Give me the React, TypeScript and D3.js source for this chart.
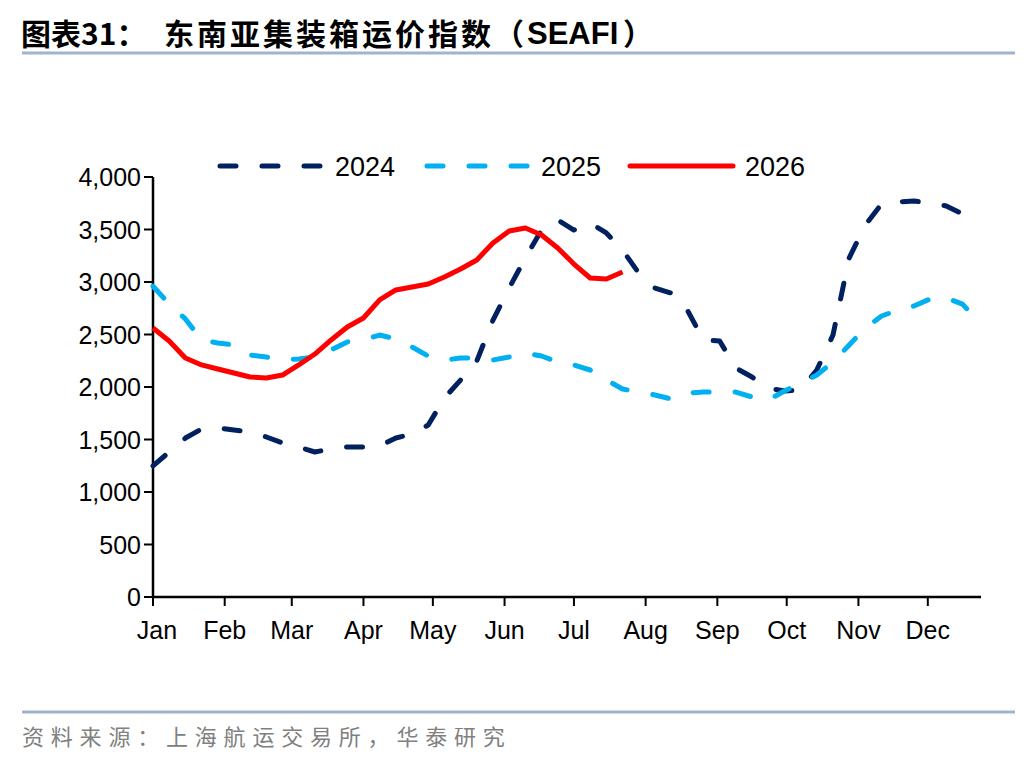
import * as d3 from "d3";

// weekly grid (plotted on a common calendar year)
const weeks = [
  "01-01", "01-08", "01-15", "01-22", "01-29",
  "02-05", "02-12", "02-19", "02-26",
  "03-04", "03-11", "03-18", "03-25",
  "04-01", "04-08", "04-15", "04-22", "04-29",
  "05-06", "05-13", "05-20", "05-27",
  "06-03", "06-10", "06-17", "06-24",
  "07-01", "07-08", "07-15", "07-22", "07-29",
  "08-05", "08-12", "08-19", "08-26",
  "09-02", "09-09", "09-16", "09-23", "09-30",
  "10-07", "10-14", "10-21", "10-28",
  "11-04", "11-11", "11-18", "11-25",
  "12-02", "12-09", "12-16", "12-23",
];

const months = ["Jan", "Feb", "Mar", "Apr", "May", "Jun", "Jul", "Aug", "Sep", "Oct", "Nov", "Dec"];
const yTicks = [0, 500, 1000, 1500, 2000, 2500, 3000, 3500, 4000];

const v2024 = [
  1248, 1381, 1514, 1600, 1610, 1590, 1571, 1524, 1467, 1429, 1381, 1410, 1429,
  1429, 1438, 1514, 1552, 1638, 1895, 2067, 2248, 2638, 2943, 3229, 3495, 3590,
  3495, 3562, 3467, 3305, 3086, 2943, 2895, 2733, 2448, 2438, 2181, 2095, 1990,
  1962, 1971, 2162, 2495, 3229, 3543, 3743, 3762, 3771, 3752, 3724, 3648, 3514,
];
const v2025 = [
  2960, 2790, 2648, 2448, 2419, 2400, 2305, 2286, 2257, 2267, 2286, 2352, 2429,
  2448, 2495, 2457, 2381, 2295, 2257, 2276, 2276, 2257, 2286, 2324, 2295, 2238,
  2210, 2162, 2067, 1981, 1952, 1924, 1886, 1943, 1952, 1952, 1952, 1905, 1876,
  1962, 2038, 2114, 2238, 2400, 2562, 2676, 2733, 2771, 2838, 2848, 2790, 2619,
];
const v2026 = [
  2562, 2438, 2276, 2210, 2171, 2133, 2095, 2086, 2114, 2210, 2314, 2448, 2571,
  2657, 2829, 2924, 2952, 2981, 3048, 3124, 3210, 3371, 3486, 3514, 3448, 3324,
  3171, 3038, 3029, 3095,
];

const series = [
  { name: "2024", values: v2024, color: "#002060", dash: "16 26" },
  { name: "2025", values: v2025, color: "#00B0F0", dash: "16 26" },
  { name: "2026", values: v2026, color: "#FF0000", dash: "" },
];

const W = 1036;
const H = 760;
const plot = { left: 153, right: 981, top: 177, bottom: 597 };
const font = "'Liberation Sans', Arial, sans-serif";
const cjk = "'Noto Sans CJK SC', sans-serif";

const parse = (s: string) => new Date(2024, +s.slice(0, 2) - 1, +s.slice(3, 5));

export default function App() {
  const x = d3
    .scaleTime()
    .domain([new Date(2024, 0, 1), new Date(2024, 11, 24)])
    .range([plot.left, plot.right]);
  const y = d3.scaleLinear().domain([0, 4000]).range([plot.bottom, plot.top]);

  const monthStarts = d3.timeMonth.range(new Date(2024, 0, 1), new Date(2024, 11, 24));

  const line = d3
    .line<number>()
    .x((_, i) => x(parse(weeks[i])))
    .y((d) => y(d));

  const fmt = d3.format(",");

  // legend layout
  const legend = [
    { x0: 218, x1: 323, tx: 335 },
    { x0: 425, x1: 530, tx: 541 },
    { x0: 630, x1: 733, tx: 745 },
  ];

  return (
    <svg
      width={W}
      height={H}
      style={{ position: "absolute", left: 0, top: 0, background: "#fff" }}
    >
      {/* title */}
      <text x={21} y={45} fontFamily={cjk} fontWeight={700} fontSize={30} fill="#000">
        图表31：
      </text>
      <text x={164} y={45} fontFamily={cjk} fontWeight={700} fontSize={30} letterSpacing={3} fill="#000">
        东南亚集装箱运价指数（
      </text>
      <text x={527} y={44} fontFamily={font} fontWeight={700} fontSize={31} fill="#000">
        SEAFI
      </text>
      <text x={623} y={45} fontFamily={cjk} fontWeight={700} fontSize={30} fill="#000">
        ）
      </text>
      <line x1={22} x2={1015} y1={53} y2={53} stroke="#A2B4CD" strokeWidth={3} />

      {/* y axis */}
      <line x1={plot.left} x2={plot.left} y1={plot.top} y2={plot.bottom} stroke="#000" strokeWidth={2.5} />
      {yTicks.map((t) => (
        <g key={t}>
          <line x1={plot.left - 9} x2={plot.left} y1={y(t)} y2={y(t)} stroke="#000" strokeWidth={2} />
          <text
            x={plot.left - 12}
            y={y(t)}
            dy="0.36em"
            textAnchor="end"
            fontFamily={font}
            fontSize={25}
            fill="#000"
          >
            {fmt(t)}
          </text>
        </g>
      ))}

      {/* x axis */}
      <line x1={plot.left} x2={plot.right} y1={plot.bottom} y2={plot.bottom} stroke="#000" strokeWidth={2.5} />
      {monthStarts.map((m, i) => (
        <g key={i}>
          <line x1={x(m)} x2={x(m)} y1={plot.bottom} y2={plot.bottom + 9} stroke="#000" strokeWidth={2} />
          <text
            x={x(m) + (i === 0 ? 4 : 0)}
            y={plot.bottom + 42}
            textAnchor="middle"
            fontFamily={font}
            fontSize={25}
            fill="#000"
          >
            {months[i]}
          </text>
        </g>
      ))}

      {/* series */}
      {series.map((s) => (
        <path
          key={s.name}
          d={line(s.values) ?? ""}
          fill="none"
          stroke={s.color}
          strokeWidth={5}
          strokeDasharray={s.dash || undefined}
          strokeLinecap={s.dash ? "round" : "butt"}
          strokeLinejoin="round"
        />
      ))}

      {/* legend */}
      {series.map((s, i) => (
        <g key={s.name}>
          <line
            x1={legend[i].x0 + (s.dash ? 2 : 0)}
            x2={legend[i].x1}
            y1={166}
            y2={166}
            stroke={s.color}
            strokeWidth={5}
            strokeDasharray={s.dash || undefined}
            strokeLinecap="round"
          />
          <text x={legend[i].tx} y={166} dy="0.36em" fontFamily={font} fontSize={27} fill="#000">
            {s.name}
          </text>
        </g>
      ))}

      {/* footer */}
      <line x1={22} x2={1015} y1={712} y2={712} stroke="#A2B4CD" strokeWidth={3} />
      <text x={22} y={745} fontFamily={cjk} fontSize={22} fill="#808080" letterSpacing={6.8}>
        资料来源：上海航运交易所，华泰研究
      </text>
    </svg>
  );
}
